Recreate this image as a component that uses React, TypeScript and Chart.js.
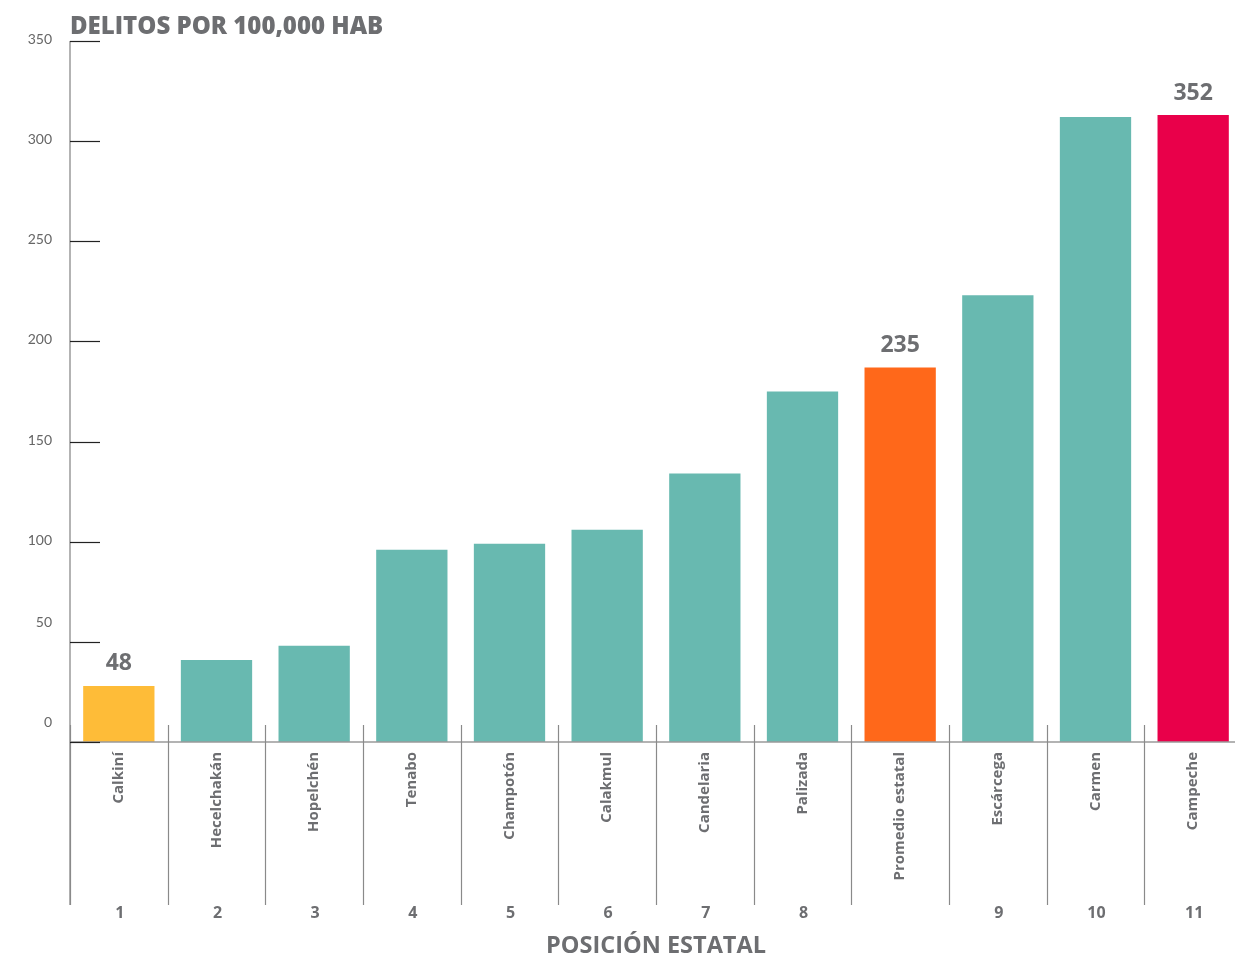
import React, { useEffect, useRef } from "react";
import { Chart, registerables } from "chart.js";

Chart.register(...registerables);

const categories = [
  "Calkiní",
  "Hecelchakán",
  "Hopelchén",
  "Tenabo",
  "Champotón",
  "Calakmul",
  "Candelaria",
  "Palizada",
  "Promedio estatal",
  "Escárcega",
  "Carmen",
  "Campeche",
];
// bar heights as drawn against the axis
const barValues = [28, 41, 48, 96, 99, 106, 134, 175, 187, 223, 312, 313];
// value labels printed above highlighted bars
const valueLabels = ["48", "", "", "", "", "", "", "", "235", "", "", "352"];
const positionLabels = ["1", "2", "3", "4", "5", "6", "7", "8", "", "9", "10", "11"];
const barColors = [
  "#FEBC38",
  "#68B9B0",
  "#68B9B0",
  "#68B9B0",
  "#68B9B0",
  "#68B9B0",
  "#68B9B0",
  "#68B9B0",
  "#FF681A",
  "#68B9B0",
  "#68B9B0",
  "#E9004A",
];
const yTickValues = [0, 50, 100, 150, 200, 250, 300, 350];

const TEXT = "#6d6e71";
const FONT = "Lato, 'Open Sans', sans-serif";
const BOLD_FONT = "'Open Sans', Lato, sans-serif";

const decorPlugin = {
  id: "decor",
  afterDraw(chart: any) {
    const ctx = chart.ctx;
    const x = chart.scales.x;
    const y = chart.scales.y;
    const area = chart.chartArea;
    const n = categories.length;
    const step = x.getPixelForValue(1) - x.getPixelForValue(0);
    ctx.save();

    // baseline
    ctx.strokeStyle = "#9a9a9a";
    ctx.lineWidth = 1.5;
    ctx.beginPath();
    ctx.moveTo(area.left, y.getPixelForValue(0));
    ctx.lineTo(chart.width, y.getPixelForValue(0));
    ctx.stroke();

    // y axis line
    ctx.beginPath();
    ctx.moveTo(area.left, y.getPixelForValue(350));
    ctx.lineTo(area.left, 905);
    ctx.stroke();

    // category separators
    ctx.strokeStyle = "#8a8a8a";
    ctx.lineWidth = 1.2;
    for (let i = 0; i < n; i++) {
      const px = Math.round(x.getPixelForValue(i) - step / 2) + 0.5;
      ctx.beginPath();
      ctx.moveTo(px, y.getPixelForValue(0) - 17);
      ctx.lineTo(px, 905);
      ctx.stroke();
    }

    // y ticks (inward marks) and labels
    ctx.strokeStyle = "#222";
    ctx.lineWidth = 1.2;
    ctx.fillStyle = "#666";
    ctx.font = `14px ${FONT}`;
    ctx.textAlign = "right";
    ctx.textBaseline = "middle";
    yTickValues.forEach((v) => {
      const py = Math.round(y.getPixelForValue(v)) + 0.5;
      ctx.beginPath();
      ctx.moveTo(area.left, py);
      ctx.lineTo(area.left + 30, py);
      ctx.stroke();
      const shift = v < 100 ? 20 : 2;
      ctx.fillText(String(v), 52, py - shift);
    });

    // value labels
    const meta = chart.getDatasetMeta(0);
    ctx.fillStyle = TEXT;
    ctx.font = `bold 23px ${BOLD_FONT}`;
    ctx.textAlign = "center";
    ctx.textBaseline = "middle";
    meta.data.forEach((bar: any, i: number) => {
      if (valueLabels[i]) ctx.fillText(valueLabels[i], bar.x, bar.y - 22);
    });

    // position numbers
    ctx.font = `bold 16px ${BOLD_FONT}`;
    positionLabels.forEach((p, i) => {
      if (p) ctx.fillText(p, x.getPixelForValue(i) + 1, 913);
    });

    // axis title
    ctx.font = `bold 23.5px ${BOLD_FONT}`;
    ctx.fillText("POSICIÓN ESTATAL", (area.left + area.right) / 2, 946);

    // chart title
    ctx.font = `800 24px ${BOLD_FONT}`;
    ctx.textAlign = "left";
    ctx.fillText("DELITOS POR 100,000 HAB", 70, 27);

    ctx.restore();
  },
};

export default function App() {
  const ref = useRef<HTMLCanvasElement | null>(null);

  useEffect(() => {
    if (!ref.current) return;
    const chart = new Chart(ref.current, {
      type: "bar",
      data: {
        labels: categories,
        datasets: [
          {
            data: barValues,
            backgroundColor: barColors,
            borderWidth: 0,
            categoryPercentage: 1,
            barPercentage: 0.73,
          },
        ],
      },
      options: {
        animation: false,
        responsive: true,
        maintainAspectRatio: false,
        layout: { padding: { top: 41, right: 8, left: 0, bottom: 0 } },
        plugins: {
          legend: { display: false },
          tooltip: { enabled: false },
          title: { display: false },
        },
        scales: {
          x: {
            grid: { display: false, drawTicks: false },
            border: { display: false },
            ticks: {
              autoSkip: false,
              minRotation: 90,
              maxRotation: 90,
              padding: 10,
              color: TEXT,
              font: { family: BOLD_FONT, size: 15, weight: "bold" },
            },
            afterFit: (s: any) => {
              s.height = 217;
            },
          },
          y: {
            min: 0,
            max: 350,
            grid: { display: false, drawTicks: false },
            border: { display: false },
            ticks: { display: false, stepSize: 50 },
            afterFit: (s: any) => {
              s.width = 70;
            },
          },
        },
      },
      plugins: [decorPlugin],
    });
    return () => chart.destroy();
  }, []);

  return (
    <div
      style={{
        position: "absolute",
        left: 0,
        top: 0,
        width: 1235,
        height: 959,
        overflow: "hidden",
        background: "#fff",
      }}
    >
      <div style={{ width: 1250, height: 959, position: "relative" }}>
        <canvas ref={ref} />
      </div>
    </div>
  );
}
